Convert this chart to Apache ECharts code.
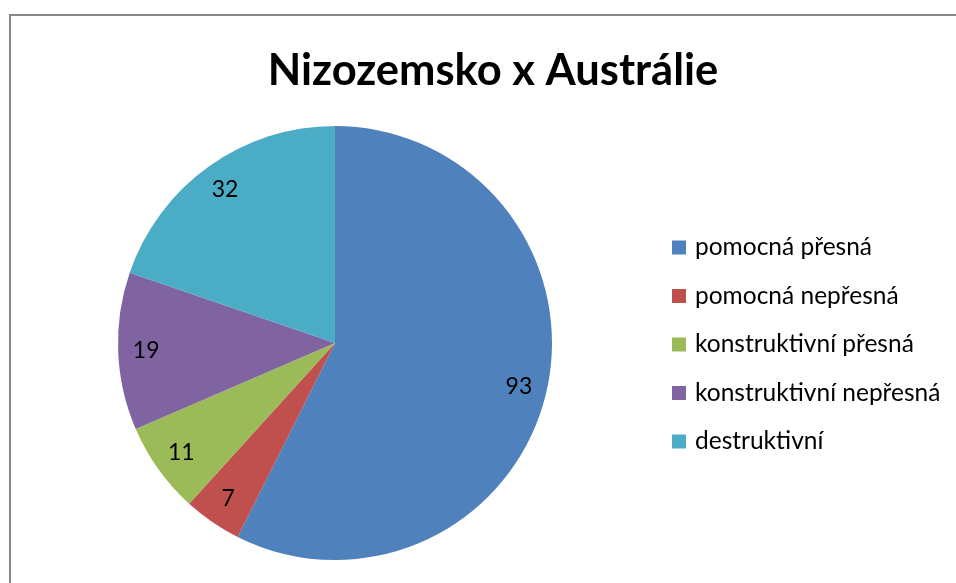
<!DOCTYPE html>
<html><head><meta charset="utf-8">
<script src="https://cdn.jsdelivr.net/npm/echarts@6/dist/echarts.min.js"></script>
<style>html,body{margin:0;padding:0;background:#fff;overflow:hidden}#c{width:956px;height:583px}</style>
</head><body><div id="c"></div>
<script>
const titleText = "Nizozemsko x Austrálie";
const categories = ["pomocná přesná", "pomocná nepřesná", "konstruktivní přesná", "konstruktivní nepřesná", "destruktivní"];
const values = [93, 7, 11, 19, 32];
const colors = ["#4F81BD", "#C0504D", "#9BBB59", "#8064A2", "#4BACC6"];

const FONT = "Lato";
const data = categories.map((n, i) => ({ name: n, value: values[i], itemStyle: { color: colors[i] } }));

const chart = echarts.init(document.getElementById('c'), null, { renderer: 'canvas', width: 956, height: 583 });
chart.setOption({
  animation: false,
  backgroundColor: '#fff',
  graphic: [
    { type: 'line', shape: { x1: 10, y1: 14, x2: 10, y2: 583 }, style: { stroke: '#878787', lineWidth: 2 }, silent: true },
    { type: 'line', shape: { x1: 9, y1: 15, x2: 956, y2: 15 }, style: { stroke: '#878787', lineWidth: 2 }, silent: true }
  ],
  title: {
    text: titleText, left: 488, top: 44, textAlign: 'center',
    textStyle: { fontFamily: FONT, fontWeight: 'bold', fontSize: 43.5, lineHeight: 44, color: '#000' }
  },
  legend: {
    orient: 'vertical', left: 667, top: 230, itemGap: 23.5, padding: 5,
    itemWidth: 14, itemHeight: 14, icon: 'rect',
    textStyle: { fontFamily: FONT, fontSize: 24.5, color: '#000', padding: [0, 0, 0, 4] },
    data: categories
  },
  series: [{
    type: 'pie', center: [335, 343], radius: [0, 217], startAngle: 90, clockwise: true,
    data: data, label: { show: false }, labelLine: { show: false }, silent: true,
    itemStyle: { borderWidth: 0 }
  }, {
    type: 'pie', center: [335, 343], radius: [156, 216], startAngle: 90, clockwise: true,
    data: data.map(d => ({ name: d.name, value: d.value })), silent: true,
    itemStyle: { color: 'rgba(0,0,0,0)' }, z: 3,
    label: { show: true, position: 'inside', formatter: '{c}', fontFamily: FONT, fontSize: 23, color: '#000' },
    labelLine: { show: false }
  }]
});
</script></body></html>
